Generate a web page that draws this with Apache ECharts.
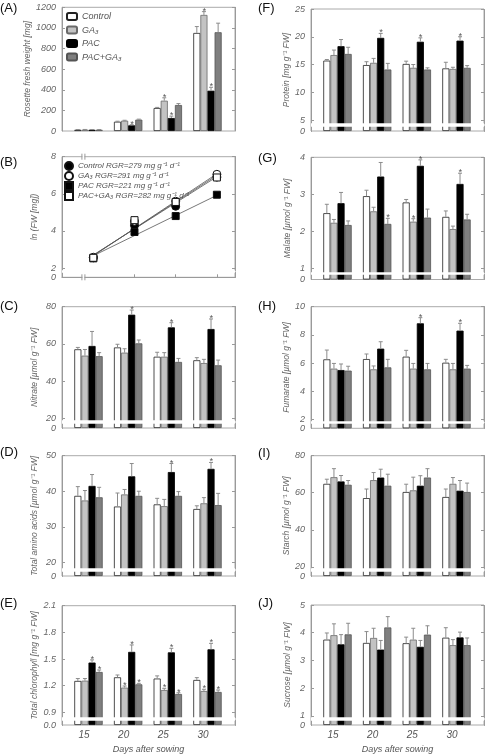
<!DOCTYPE html>
<html><head><meta charset="utf-8">
<script src="https://cdn.jsdelivr.net/npm/echarts@6/dist/echarts.min.js"></script>
<style>html,body{margin:0;padding:0;background:#fff}#c{width:487px;height:755px}</style>
</head><body><div id="c"></div><script>
const days = [15, 20, 25, 30];
const treatments = ['Control', 'GA₃', 'PAC', 'PAC+GA₃'];
// rows: Control, GA3, PAC, PAC+GA3 ; columns: days 15,20,25,30
const fwMean = [[12, 90, 223, 951], [13, 100, 294, 1126], [12, 55, 126, 391], [12, 110, 252, 958]];
const fwErr = [[2, 5, 6, 62], [2, 4, 28, 32], [2, 6, 18, 33], [2, 5, 14, 88]];
const fwSig = [[0, 0, 0, 0], [0, 0, 1, 1], [0, 1, 1, 1], [0, 0, 0, 0]];

const lnFw = [[2.55, 4.30, 5.33, 6.90], [2.58, 4.52, 5.60, 7.05], [2.52, 3.94, 4.80, 5.95], [2.55, 4.58, 5.56, 6.88]];
const fitDays = [15, 30];
const fitLines = [[2.70, 6.92], [2.66, 7.08], [2.66, 5.92], [2.68, 7.00]];
const rgr = [279, 291, 221, 282];

const nitrateMean = [[57.1, 58.1, 53.1, 51.2], [53.7, 55.3, 53.1, 49.7], [58.9, 75.7, 68.9, 68.0], [53.4, 60.3, 50.3, 48.5]];
const nitrateErr = [[1.0, 1.7, 2.4, 1.4], [3.3, 2.1, 2.2, 2.0], [7.8, 2.5, 2.5, 5.4], [1.9, 1.8, 1.9, 2.8]];
const nitrateSig = [[0, 0, 0, 0], [0, 0, 0, 0], [0, 1, 1, 1], [0, 0, 0, 0]];

const aminoMean = [[38.7, 35.7, 36.3, 35.0], [37.4, 39.1, 35.8, 36.6], [41.5, 44.2, 45.4, 46.3], [38.3, 38.7, 38.7, 36.1]];
const aminoErr = [[2.6, 3.8, 1.7, 0.9], [2.8, 1.4, 1.9, 1.6], [3.2, 3.6, 2.4, 1.8], [2.8, 1.3, 1.2, 3.3]];
const aminoSig = [[0, 0, 0, 0], [0, 0, 0, 0], [0, 0, 1, 1], [0, 0, 0, 0]];

const chlMean = [[1.253, 1.294, 1.280, 1.264], [1.256, 1.178, 1.151, 1.140], [1.460, 1.580, 1.575, 1.609], [1.354, 1.215, 1.106, 1.129]];
const chlErr = [[0.027, 0.026, 0.030, 0.026], [0.024, 0.018, 0.019, 0.019], [0.030, 0.078, 0.045, 0.067], [0.022, 0.011, 0.014, 0.022]];
const chlSig = [[0, 0, 0, 0], [0, 1, 1, 1], [1, 1, 1, 1], [1, 1, 1, 1]];

const proteinMean = [[15.7, 14.9, 15.1, 14.3], [16.7, 15.3, 14.4, 14.2], [18.3, 19.8, 19.1, 19.3], [16.9, 14.1, 14.1, 14.4]];
const proteinErr = [[0.2, 0.6, 0.5, 1.1], [0.9, 0.8, 0.6, 0.3], [1.2, 0.8, 0.7, 0.7], [1.2, 1.1, 0.3, 0.4]];
const proteinSig = [[0, 0, 0, 0], [0, 0, 0, 0], [0, 1, 1, 1], [0, 0, 0, 0]];

const malateMean = [[2.49, 2.95, 2.78, 2.39], [2.23, 2.54, 2.26, 2.06], [2.76, 3.48, 3.77, 3.28], [2.17, 2.20, 2.37, 2.32]];
const malateErr = [[0.24, 0.16, 0.08, 0.16], [0.09, 0.11, 0.08, 0.08], [0.29, 0.38, 0.16, 0.29], [0.11, 0.15, 0.23, 0.14]];
const malateSig = [[0, 0, 0, 0], [0, 0, 1, 0], [0, 0, 1, 1], [0, 1, 0, 0]];

const fumarateMean = [[6.26, 6.28, 6.45, 6.02], [5.60, 5.55, 5.60, 5.55], [5.50, 7.02, 8.82, 8.30], [5.46, 5.69, 5.55, 5.60]];
const fumarateErr = [[0.66, 0.36, 0.45, 0.24], [0.37, 0.24, 0.37, 0.42], [0.43, 0.49, 0.40, 0.52], [0.31, 0.57, 0.42, 0.23]];
const fumarateSig = [[0, 0, 0, 0], [0, 0, 0, 0], [0, 0, 1, 1], [0, 0, 0, 0]];

const starchMean = [[64.8, 57.1, 60.4, 57.7], [68.4, 66.8, 61.3, 64.8], [66.1, 68.2, 63.8, 61.1], [64.3, 63.8, 68.2, 60.4]];
const starchErr = [[2.5, 4.9, 4.2, 4.3], [4.6, 4.1, 7.1, 3.4], [3.2, 4.5, 5.4, 5.5], [2.3, 6.2, 4.8, 4.8]];

const sucroseMean = [[3.75, 3.63, 3.62, 3.82], [3.91, 3.81, 3.75, 3.55], [3.58, 3.39, 3.49, 3.83], [3.94, 4.19, 3.93, 3.55]];
const sucroseErr = [[0.24, 0.41, 0.22, 0.36], [0.41, 0.35, 0.41, 0.20], [0.35, 0.33, 0.23, 0.19], [0.40, 0.39, 0.32, 0.26]];

const noSig = [[0, 0, 0, 0], [0, 0, 0, 0], [0, 0, 0, 0], [0, 0, 0, 0]];

// ---------- layout / style ----------
const FONT = 'Liberation Sans';
const colLeft = [62, 311];
const plotW = 173;
const BW = 7.1;
const barColors = ['#ffffff', '#c3c3c3', '#000000', '#7f7f7f'];
const barBorders = ['#222222', '#6a6a6a', '#000000', '#555555'];
const axisGray = '#9a9a9a';
const textGray = '#666666';

const panels = [
  {lab: '(A)', col: 0, top: 7.3, bottom: 131, max: 1200, ticks: [0, 200, 400, 600, 800, 1000, 1200], title: 'Rosette fresh weight [mg]', mean: fwMean, err: fwErr, sig: fwSig, labTop: 2},
  {lab: '(B)', col: 0, top: 156.7, bottom: 277.3, yL: 268, lower: 2, max: 8, ticks: [0, 2, 4, 6, 8], title: 'ln (FW [mg])', scatter: true, labTop: 156},
  {lab: '(C)', col: 0, top: 306.7, bottom: 428, yL: 418.3, lower: 20, max: 80, ticks: [0, 20, 40, 60, 80], title: 'Nitrate [µmol g⁻¹ FW]', mean: nitrateMean, err: nitrateErr, sig: nitrateSig, labTop: 300},
  {lab: '(D)', col: 0, top: 455.7, bottom: 576, yL: 562.3, lower: 20, max: 50, ticks: [0, 20, 30, 40, 50], title: 'Total amino acids [µmol g⁻¹ FW]', mean: aminoMean, err: aminoErr, sig: aminoSig, labTop: 446},
  {lab: '(E)', col: 0, top: 605.7, bottom: 725, yL: 712.3, lower: 0.9, max: 2.1, ticks: [0, 0.9, 1.2, 1.5, 1.8, 2.1], dec: 1, title: 'Total chlorophyll [mg g⁻¹ FW]', mean: chlMean, err: chlErr, sig: chlSig, xlab: true, labTop: 597},
  {lab: '(F)', col: 1, top: 9, bottom: 131, yL: 120, lower: 5, max: 25, ticks: [0, 5, 10, 15, 20, 25], title: 'Protein [mg g⁻¹ FW]', mean: proteinMean, err: proteinErr, sig: proteinSig, labTop: 2},
  {lab: '(G)', col: 1, top: 157.3, bottom: 279.5, yL: 268.3, lower: 1, max: 4, ticks: [0, 1, 2, 3, 4], title: 'Malate [µmol g⁻¹ FW]', mean: malateMean, err: malateErr, sig: malateSig, labTop: 152},
  {lab: '(H)', col: 1, top: 306.7, bottom: 428.3, yL: 419.3, lower: 2, max: 10, ticks: [0, 2, 4, 6, 8, 10], title: 'Fumarate [µmol g⁻¹ FW]', mean: fumarateMean, err: fumarateErr, sig: fumarateSig, labTop: 300},
  {lab: '(I)', col: 1, top: 455.7, bottom: 576, yL: 566.8, lower: 20, max: 80, ticks: [0, 20, 40, 60, 80], title: 'Starch [µmol g⁻¹ FW]', mean: starchMean, err: starchErr, sig: noSig, labTop: 447},
  {lab: '(J)', col: 1, top: 605, bottom: 726, yL: 716.7, lower: 1, max: 5, ticks: [0, 1, 2, 3, 4, 5], title: 'Sucrose [µmol g⁻¹ FW]', mean: sucroseMean, err: sucroseErr, sig: noSig, xlab: true, labTop: 597}
];

function breakFor(p) {
  const s = (p.yL - p.top) / (p.max - p.lower);
  const p1 = 5, gp = 2.5;
  const p2 = (p.bottom - p.yL) - p1 - gp;
  return {start: p1 / s, end: p.lower - p2 / s, gap: gp / s};
}

const option = {
  animation: false,
  textStyle: {fontFamily: FONT},
  title: [], grid: [], xAxis: [], yAxis: [], series: [], legend: []
};

let scatterGridIndex = -1;

panels.forEach((p, i) => {
  const left = colLeft[p.col];
  option.title.push({text: p.lab, left: p.col ? 258 : 0, top: p.labTop, padding: 0,
    textStyle: {fontSize: 13, fontWeight: 'normal', color: '#111', fontFamily: FONT}});
  option.grid.push({left: left, top: p.top, width: plotW, height: p.bottom - p.top,
    show: true, borderColor: '#aaaaaa', borderWidth: 1, backgroundColor: 'transparent'});

  const yAx = (pos) => {
    const o = {
      type: 'value', gridIndex: i, position: pos, min: 0, max: p.max,
      splitLine: {show: false},
      axisLine: {show: true, onZero: false, lineStyle: {color: axisGray, width: 1}},
      axisTick: {show: true, inside: true, length: 3, lineStyle: {color: axisGray}, customValues: p.ticks.slice(1)},
      axisLabel: {show: pos === 'left', customValues: p.ticks, color: textGray, fontStyle: 'italic', fontSize: 9, margin: 6,
        hideOverlap: false, showMinLabel: true, showMaxLabel: true, lineHeight: 6, height: 6,
        fontFamily: FONT, formatter: v => p.dec ? Number(v).toFixed(p.dec) : String(Math.round(v))},
      name: pos === 'left' ? p.title : '', nameLocation: 'middle', nameGap: p.col ? 19 : 23,
      nameTextStyle: {color: textGray, fontStyle: 'italic', fontSize: 8.5, fontFamily: FONT}
    };
    if (p.lower != null) {
      o.breaks = [breakFor(p)];
      o.breakArea = {show: true, itemStyle: {color: '#ffffff', borderColor: '#ffffff', borderWidth: 0, opacity: 1},
        zigzagAmplitude: 0, expandOnClick: false};
      o.breakLabelLayout = {moveOverlap: false};
    }
    return o;
  };
  option.yAxis.push(yAx('left'));
  option.yAxis.push(yAx('right'));
  const yi = option.yAxis.length - 2;

  if (p.scatter) {
    scatterGridIndex = i;
    option.xAxis.push({type: 'value', gridIndex: i, min: 11.2, max: 32.2,
      axisLine: {show: true, onZero: false, lineStyle: {color: axisGray}},
      axisTick: {show: true, inside: true, length: 3, customValues: [20, 25, 30], lineStyle: {color: axisGray}},
      axisLabel: {show: false}, splitLine: {show: false}});
    const syms = ['circle', 'circle', 'rect', 'rect'];
    const sizes = [8, 8, 7, 7];
    const fills = ['#000', '#fff', '#000', '#fff'];
    for (let t = 0; t < 4; t++) {
      option.series.push({type: 'line', xAxisIndex: i, yAxisIndex: yi, silent: true,
        data: fitDays.map((d, j) => [d, fitLines[t][j]]), symbol: 'none',
        lineStyle: {color: '#555', width: 0.8}, z: 2});
    }
    const names = [];
    for (let t = 0; t < 4; t++) {
      const nm = treatments[t] + ' RGR=' + rgr[t] + ' mg g⁻¹ d⁻¹';
      names.push(nm);
      option.series.push({type: 'scatter', name: nm, xAxisIndex: i, yAxisIndex: yi,
        data: days.map((d, j) => [d, lnFw[t][j]]), symbol: syms[t], symbolSize: sizes[t],
        itemStyle: {color: fills[t], borderColor: '#111', borderWidth: 1, opacity: 1}, z: 5 + t});
    }
    option.legend.push({data: names, left: 64, top: 161, orient: 'vertical', padding: 0,
      itemWidth: 8, itemHeight: 8, itemGap: 0,
      textStyle: {fontSize: 8, fontStyle: 'italic', color: '#555', fontFamily: FONT, lineHeight: 8}});
    return;
  }

  option.xAxis.push({type: 'value', gridIndex: i, min: 11.66, max: 33.47,
    axisLine: {show: false}, axisTick: {show: false}, splitLine: {show: false},
    axisLabel: {show: !!p.xlab, customValues: days, color: '#555', fontStyle: 'italic', fontSize: 10, margin: 5,
      padding: [0, 9, 0, 0], fontFamily: FONT},
    name: p.xlab ? 'Days after sowing' : '', nameLocation: 'middle', nameGap: 20,
    nameTextStyle: {color: '#555', fontStyle: 'italic', fontSize: 9, fontFamily: FONT}});

  for (let t = 0; t < 4; t++) {
    option.series.push({type: 'bar', name: treatments[t], xAxisIndex: i, yAxisIndex: yi,
      data: days.map((d, j) => [d, p.mean[t][j]]), barWidth: BW, barGap: '0%',
      itemStyle: {color: barColors[t], borderColor: barBorders[t], borderWidth: 0.8}, z: 2});
  }
  for (let t = 0; t < 4; t++) {
    option.series.push({type: 'custom', xAxisIndex: i, yAxisIndex: yi, silent: true, z: 3,
      data: days.map((d, j) => [d, p.mean[t][j], p.err[t][j], p.sig[t][j], t]),
      renderItem: (params, api) => {
        const x = api.value(0), m = api.value(1), e = api.value(2), s = api.value(3), tt = api.value(4);
        const base = api.coord([x, m]);
        const top = api.coord([x, m + e]);
        const cx = base[0] + (tt - 1.5) * BW;
        const ch = [
          {type: 'line', shape: {x1: cx, y1: base[1], x2: cx, y2: top[1]}, style: {stroke: '#8c8c8c', lineWidth: 1}},
          {type: 'line', shape: {x1: cx - 2, y1: top[1], x2: cx + 2, y2: top[1]}, style: {stroke: '#8c8c8c', lineWidth: 1}}
        ];
        if (s) ch.push({type: 'text', style: {text: '*', x: cx, y: top[1] + 4, align: 'center', verticalAlign: 'bottom',
          fill: '#555', font: 'italic 9px ' + FONT}});
        return {type: 'group', children: ch};
      }});
  }
});

option.legend.push({data: treatments, left: 66, top: 12, orient: 'vertical', padding: 0,
  itemWidth: 10, itemHeight: 7, itemGap: 4.5,
  textStyle: {fontSize: 9, fontStyle: 'italic', color: '#555', fontFamily: FONT, lineHeight: 8}});

const chart = echarts.init(document.getElementById('c'), null, {renderer: 'canvas'});
chart.setOption(option);

// x-axis break mark of panel B (drawn on both horizontal frame lines)
const bx = chart.convertToPixel({xAxisIndex: scatterGridIndex}, 13.8);
const bp = panels[scatterGridIndex];
const marks = [];
[bp.top, bp.bottom].forEach(y => {
  marks.push({type: 'rect', shape: {x: bx - 1, y: y - 1.5, width: 2, height: 3}, style: {fill: '#fff'}, z: 50});
  marks.push({type: 'line', shape: {x1: bx - 1.5, y1: y - 3, x2: bx - 1.5, y2: y + 3}, style: {stroke: axisGray, lineWidth: 1}, z: 51});
  marks.push({type: 'line', shape: {x1: bx + 1.5, y1: y - 3, x2: bx + 1.5, y2: y + 3}, style: {stroke: axisGray, lineWidth: 1}, z: 51});
});
chart.setOption({graphic: marks});
</script></body></html>
